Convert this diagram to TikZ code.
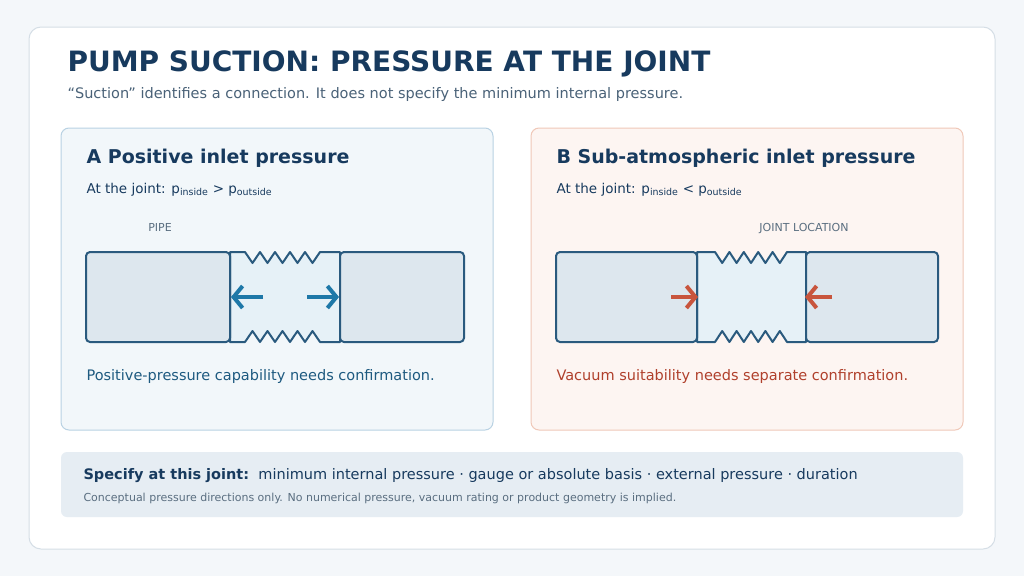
\documentclass[tikz,border=0pt]{standalone}
\usepackage{fontspec}
\setmainfont{DejaVu Sans}
\usetikzlibrary{arrows.meta, positioning, calc}
\definecolor{bgpage}{HTML}{F4F7FA}
\definecolor{cardline}{HTML}{D5DEE6}
\definecolor{navy}{HTML}{173A5E}
\definecolor{slate}{HTML}{4A6278}
\definecolor{bluefill}{HTML}{F2F7FA}
\definecolor{blueline}{HTML}{B9D2E3}
\definecolor{redfill}{HTML}{FDF5F2}
\definecolor{redline}{HTML}{F0C8B8}
\definecolor{pipeline}{HTML}{2A5A7E}
\definecolor{pipefill}{HTML}{DDE7EE}
\definecolor{jointfill}{HTML}{E6F1F7}
\definecolor{pushblue}{HTML}{1E78A8}
\definecolor{pushred}{HTML}{C8553D}
\definecolor{notebox}{HTML}{E6EDF3}
\definecolor{bluetext}{HTML}{1E5A80}
\definecolor{redtext}{HTML}{B0402C}
\definecolor{graytext}{HTML}{5A6E80}
\tikzset{
  panel/.style={rounded corners=8pt, line width=1pt},
  pipe/.style={draw=pipeline, fill=pipefill, line width=2pt, rounded corners=4pt, inner sep=0pt},
  head/.style={anchor=base west, text=navy, font=\fontsize{19}{22}\selectfont\bfseries},
  sub/.style={anchor=base west, text=navy, font=\fontsize{13.5}{16}\selectfont},
  tag/.style={anchor=base, text=graytext, font=\fontsize{11}{13}\selectfont},
  push/.style={line width=4pt, -{Straight Barb[length=9pt, width=22pt]}},
}
\newcommand{\jointbody}[4]{% x0, x1, zigzag start, zigzag end
  \pgfmathsetmacro{\zs}{(#4-#3)/10}
  \draw[pipeline, fill=jointfill, line width=2pt, line join=round]
    (#1,252) -- (#3,252) \foreach \i in {1,...,5} {-- ++(\zs,11) -- ++(\zs,-11)}
    -- (#2,252) -- (#2,342) -- (#4,342)
    \foreach \i in {1,...,5} {-- ++(-\zs,-11) -- ++(-\zs,11)} -- (#1,342) -- cycle;
}
\begin{document}
\begin{tikzpicture}[x=1pt, y=-1pt]
\fill[bgpage] (0,0) rectangle (1024,576);
\useasboundingbox (0,0) rectangle (1024,576);
\draw[panel, draw=cardline, fill=white, rounded corners=12pt] (29,27) rectangle (995,549);

% title
\node[anchor=base west, text=navy, font=\fontsize{28}{32}\selectfont\bfseries] (title) at (64,71) {PUMP SUCTION: PRESSURE AT THE JOINT};
\node[anchor=base west, text=slate, font=\fontsize{14.5}{17}\selectfont] (subtitle) at (64,98) {“Suction” identifies a connection. It does not specify the minimum internal pressure.};

% panel A
\draw[panel, draw=blueline, fill=bluefill] (61,128) rectangle (493,430);
\node[head] (headA) at (83,163) {A Positive inlet pressure};
\node[sub] (subA) at (83,193) {At the joint: p\textsubscript{inside} > p\textsubscript{outside}};
\node[tag] (pipeA) at (160,231) {PIPE};
\jointbody{230}{340}{245}{320}
\node[pipe, minimum width=144pt, minimum height=90pt] (leftA) at (158,297) {};
\node[pipe, minimum width=124pt, minimum height=90pt] (rightA) at (402,297) {};
\coordinate (inA) at (263,297);
\coordinate (inB) at (307,297);
\draw[push, pushblue] (inA) -- (leftA.east);
\draw[push, pushblue] (inB) -- (rightA.west);
\node[anchor=base west, text=bluetext, font=\fontsize{14.5}{17}\selectfont] (noteA) at (83,380) {Positive-pressure capability needs confirmation.};

% panel B
\draw[panel, draw=redline, fill=redfill] (531,128) rectangle (963,430);
\node[head] (headB) at (553,163) {B Sub-atmospheric inlet pressure};
\node[sub] (subB) at (553,193) {At the joint: p\textsubscript{inside} < p\textsubscript{outside}};
\node[tag] (jointB) at (804,231) {JOINT LOCATION};
\jointbody{697}{806}{715}{787}
\node[pipe, minimum width=141pt, minimum height=90pt] (leftB) at (626.5,297) {};
\node[pipe, minimum width=132pt, minimum height=90pt] (rightB) at (872,297) {};
\coordinate (outA) at (671,297);
\coordinate (outB) at (832,297);
\draw[push, pushred] (outA) -- (leftB.east);
\draw[push, pushred] (outB) -- (rightB.west);
\node[anchor=base west, text=redtext, font=\fontsize{14.5}{17}\selectfont] (noteB) at (553,380) {Vacuum suitability needs separate confirmation.};

% footer
\fill[notebox, rounded corners=6pt] (61,452) rectangle (963,517);
\node[anchor=base west, text=navy, font=\fontsize{14.5}{17}\selectfont] (spec) at (80,479) {\textbf{Specify at this joint:}\ \ minimum internal pressure · gauge or absolute basis · external pressure · duration};
\node[anchor=base west, text=graytext, font=\fontsize{11}{13}\selectfont] (fine) at (80,501) {Conceptual pressure directions only. No numerical pressure, vacuum rating or product geometry is implied.};
\end{tikzpicture}
\end{document}
